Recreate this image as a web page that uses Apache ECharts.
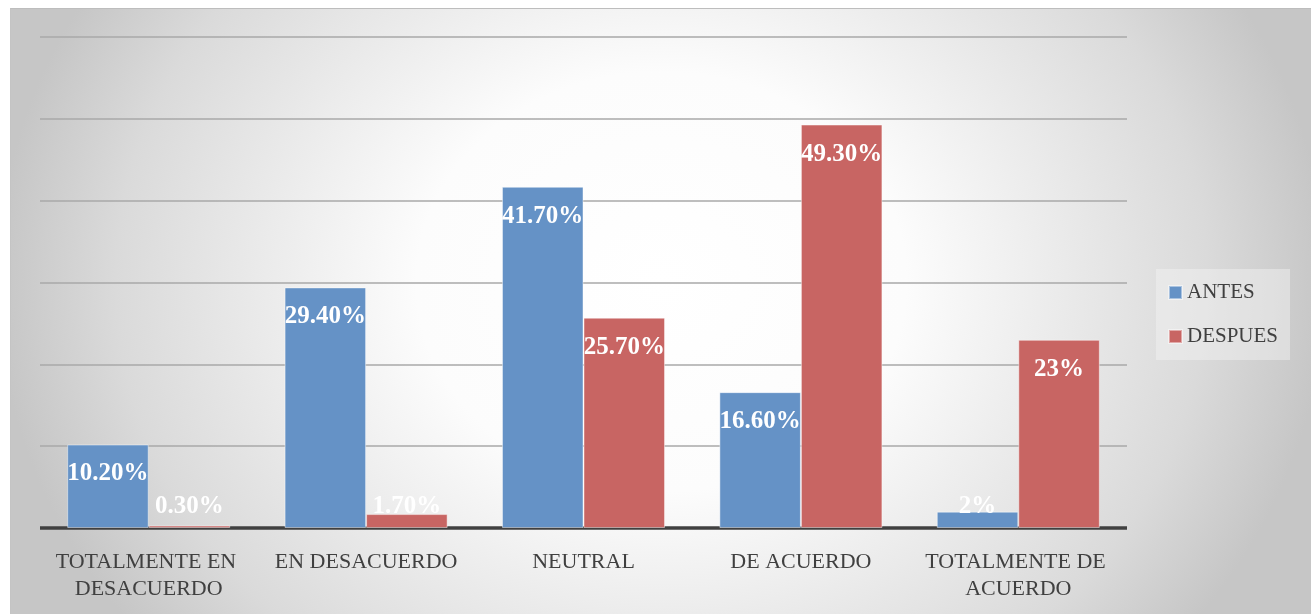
<!DOCTYPE html>
<html>
<head>
<meta charset="utf-8">
<script src="https://cdn.jsdelivr.net/npm/echarts@6/dist/echarts.min.js"></script>
<style>
  html, body { margin: 0; padding: 0; background: #fff; }
  #wrap {
    position: absolute; left: 10px; top: 8px; width: 1301px; height: 606px;
    border-top: 1px solid #bdbdbd; border-left: 1px solid #c4c4c4;
    background: radial-gradient(ellipse 700px 600px at 50% 45%,
      #ffffff 0%, #fcfcfc 35%, #dadada 78%, #c6c6c6 95%);
  }
  #chart { position: absolute; left: -11px; top: -9px; width: 1311px; height: 614px; }
</style>
</head>
<body>
<div id="wrap"><div id="chart"></div></div>
<script>
// values (percent)
const categories = ['TOTALMENTE EN DESACUERDO', 'EN DESACUERDO', 'NEUTRAL', 'DE ACUERDO', 'TOTALMENTE DE ACUERDO'];
const antes = [10.2, 29.4, 41.7, 16.6, 2];
const despues = [0.3, 1.7, 25.7, 49.3, 23];
const antesLabels = ['10.20%', '29.40%', '41.70%', '16.60%', '2%'];
const despuesLabels = ['0.30%', '1.70%', '25.70%', '49.30%', '23%'];

const FONT = '"Liberation Serif", "DejaVu Serif", serif';

// short bars can't hold the label inside the top, so it sits just above the axis
function toData(values, labels) {
  return values.map((v, i) => ({
    value: v,
    label: v < 5
      ? { position: 'insideBottom', distance: 9, formatter: labels[i] }
      : { position: 'insideTop', distance: 17, formatter: labels[i] }
  }));
}

const barLabel = {
  show: true,
  color: '#ffffff',
  fontFamily: FONT,
  fontWeight: 'bold',
  fontSize: 25
};

const chart = echarts.init(document.getElementById('chart'), null, { renderer: 'canvas' });
chart.setOption({
  animation: false,
  backgroundColor: 'transparent',
  grid: { left: 40, right: 184, top: 37, bottom: 86, containLabel: false },
  legend: {
    orient: 'vertical',
    left: 1156, top: 269,
    padding: [13, 12, 13, 12],
    itemWidth: 13, itemHeight: 13, itemGap: 23,
    backgroundColor: 'rgba(245,245,245,0.45)',
    icon: 'rect',
    textStyle: { fontFamily: FONT, fontSize: 21, color: '#404040' },
    data: ['ANTES', 'DESPUES']
  },
  xAxis: {
    type: 'category',
    data: categories,
    axisLine: { lineStyle: { color: '#404040', width: 3.5, cap: 'butt' } },
    axisTick: { show: false },
    axisLabel: {
      interval: 0,
      margin: 21,
      width: 205,
      overflow: 'break',
      lineHeight: 27,
      verticalAlign: 'top',
      fontFamily: FONT,
      fontSize: 22,
      color: '#404040'
    }
  },
  yAxis: {
    type: 'value',
    min: 0, max: 60, interval: 10,
    axisLabel: { show: false },
    axisLine: { show: false },
    axisTick: { show: false },
    splitLine: { lineStyle: { color: '#a8a8a8', width: 1.5 } }
  },
  series: [
    {
      name: 'ANTES',
      type: 'bar',
      barGap: '0%',
      barCategoryGap: '25%',
      itemStyle: { color: '#6592c6', borderColor: 'rgba(255,255,255,0.45)', borderWidth: 1 },
      label: barLabel,
      data: toData(antes, antesLabels)
    },
    {
      name: 'DESPUES',
      type: 'bar',
      barGap: '0%',
      barCategoryGap: '25%',
      itemStyle: { color: '#c86563', borderColor: 'rgba(255,255,255,0.45)', borderWidth: 1 },
      label: barLabel,
      data: toData(despues, despuesLabels)
    }
  ]
});
</script>
</body>
</html>
